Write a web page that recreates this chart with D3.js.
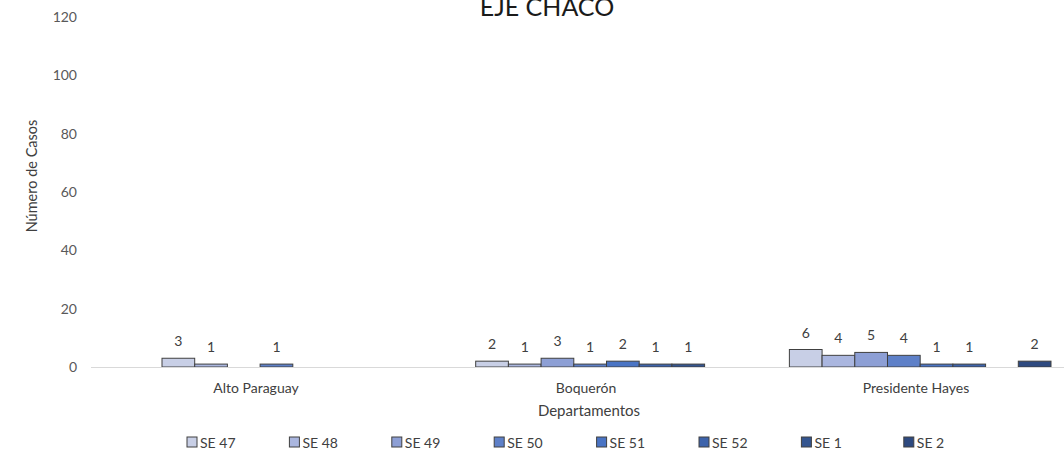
<!DOCTYPE html>
<html>
<head>
<meta charset="utf-8">
<script src="https://cdn.jsdelivr.net/npm/d3@7"></script>
<style>
  html, body { margin: 0; padding: 0; background: #fff; }
  svg { display: block; font-family: Lato, "Open Sans", sans-serif; }
</style>
</head>
<body>
<div id="chart"></div>
<script>
// Departamentos del eje Chaco, casos por semana epidemiológica
const categories = ['Alto Paraguay', 'Boquerón', 'Presidente Hayes'];
const series = ['SE 47', 'SE 48', 'SE 49', 'SE 50', 'SE 51', 'SE 52', 'SE 1', 'SE 2'];
const colors = ['#c8cfe6', '#aab6df', '#8d9fd5', '#5e80c8', '#4a74c4', '#3d63ab', '#34558f', '#2e4a80'];
// values[category][series]
const values = [
  [3, 1, 0, 1, 0, 0, 0, 0],
  [2, 1, 3, 1, 2, 1, 1, 0],
  [6, 4, 5, 4, 1, 1, 0, 2],
];
const yTicks = [0, 20, 40, 60, 80, 100, 120];

(function () {
  'use strict';
  const W = 1064, H = 450;
  const svg = d3.select('#chart').append('svg').attr('width', W).attr('height', H);

  const y = d3.scaleLinear().domain([0, 120]).range([367, 17]);
  // category axis (labels) and bar groups
  const xAxis = d3.scaleBand().domain(categories).range([91, 1081]);
  const x0 = d3.scaleBand().domain(categories).range([162, 1051]).paddingInner(0.166);
  const x1 = d3.scaleBand().domain(series).range([0, x0.bandwidth()]);

  // title (cut off at top like the source)
  svg.append('text').attr('x', 547).attr('y', 16).attr('text-anchor', 'middle')
    .style('font-size', '25px').style('fill', '#1a1a1a').text('EJE CHACO');

  // y tick labels
  svg.selectAll('.ytick').data(yTicks).join('text')
    .attr('x', 77).attr('y', d => y(d) + 5).attr('text-anchor', 'end')
    .style('font-size', '14px').style('fill', '#595959').text(d => d);

  // y title
  svg.append('text').attr('transform', 'translate(37,176) rotate(-90)')
    .attr('text-anchor', 'middle').style('font-size', '14.5px').style('fill', '#404040')
    .text('Número de Casos');

  // bars
  const groups = svg.selectAll('.grp').data(categories).join('g')
    .attr('transform', d => `translate(${x0(d)},0)`);
  groups.each(function (cat, ci) {
    const g = d3.select(this);
    const rows = series.map((s, si) => ({ s, si, v: values[ci][si] })).filter(d => d.v > 0);
    g.selectAll('rect').data(rows).join('rect')
      .attr('x', d => x1(d.s)).attr('width', x1.bandwidth())
      .attr('y', d => y(d.v)).attr('height', d => y(0) - y(d.v))
      .attr('fill', d => colors[d.si]).attr('stroke', '#404040').attr('stroke-width', 1);
    g.selectAll('text').data(rows).join('text')
      .attr('x', d => x1(d.s) + x1.bandwidth() / 2).attr('y', d => y(d.v) - 12)
      .attr('text-anchor', 'middle').style('font-size', '14px').style('fill', '#404040')
      .text(d => d.v);
  });

  // x axis line
  svg.append('line').attr('x1', 91).attr('x2', W).attr('y1', y(0) + 0.5).attr('y2', y(0) + 0.5)
    .attr('stroke', '#d9d9d9').attr('stroke-width', 1);

  // category labels
  svg.selectAll('.xlab').data(categories).join('text')
    .attr('x', d => xAxis(d) + xAxis.bandwidth() / 2).attr('y', 393)
    .attr('text-anchor', 'middle').style('font-size', '14px').style('fill', '#404040').text(d => d);

  svg.append('text').attr('x', 589).attr('y', 416).attr('text-anchor', 'middle')
    .style('font-size', '15px').style('fill', '#404040').text('Departamentos');

  // legend
  const leg = d3.scaleBand().domain(series).range([187, 187 + 102.4 * series.length]);
  const li = svg.selectAll('.leg').data(series).join('g')
    .attr('transform', d => `translate(${leg(d)},437)`);
  li.append('rect').attr('width', 10).attr('height', 10)
    .attr('fill', (d, i) => colors[i]).attr('stroke', '#404040').attr('stroke-width', 1);
  li.append('text').attr('x', 13).attr('y', 10.5).style('font-size', '14px').style('fill', '#404040').text(d => d);
})();
</script>
</body>
</html>
